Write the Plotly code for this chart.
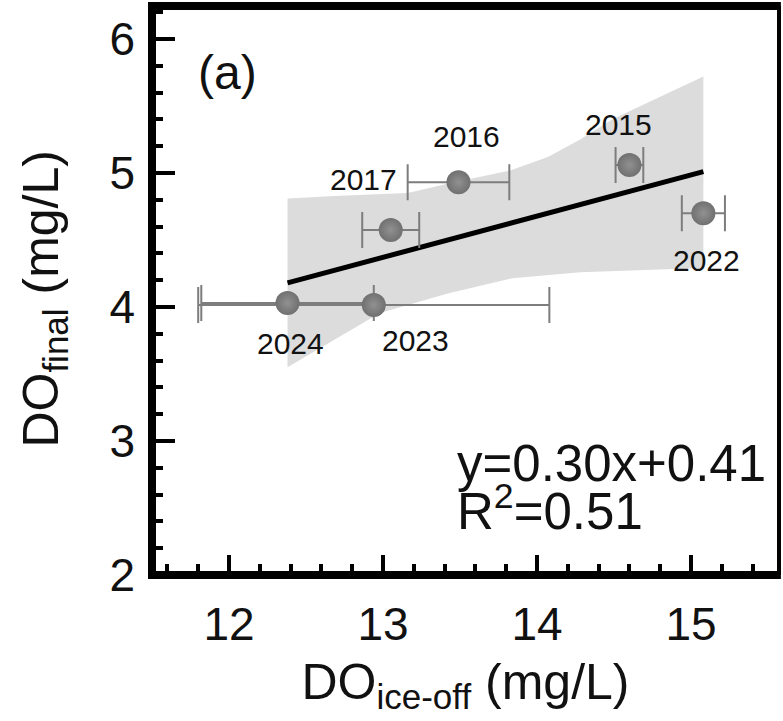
import plotly.graph_objects as go

# ---- data ----
years = ["2015", "2016", "2017", "2022", "2023", "2024"]
do_ice_off = [14.60, 13.49, 13.05, 15.08, 12.94, 12.38]
do_final = [5.06, 4.93, 4.575, 4.70, 4.015, 4.03]
do_ice_off_err = [0.09, 0.33, 0.185, 0.14, 1.14, 0.56]

fit_x = [12.38, 15.08]
fit_y = [4.18, 5.01]

band_x_upper = [12.38, 12.72, 13.16, 13.44, 13.83, 14.07, 14.28, 14.49, 14.71, 15.08]
band_y_upper = [4.81, 4.83, 4.85, 4.925, 5.02, 5.12, 5.25, 5.40, 5.52, 5.72]
band_x_lower = [12.38, 12.98, 13.42, 13.84, 14.28, 14.71, 15.08]
band_y_lower = [3.55, 3.955, 4.10, 4.215, 4.26, 4.275, 4.29]

label_x = [14.53, 13.54, 12.87, 15.10, 13.21, 12.40]
label_y = [5.36, 5.27, 4.95, 4.35, 3.75, 3.73]

x_ticks = [12, 13, 14, 15]
y_ticks = [2, 3, 4, 5, 6]
x_range = [11.5, 15.571]
y_range = [2.0, 6.246]

FONT = "Liberation Sans, Arial, sans-serif"

fig = go.Figure()

# confidence band
fig.add_trace(go.Scatter(
    x=band_x_upper + band_x_lower[::-1],
    y=band_y_upper + band_y_lower[::-1],
    fill="toself", fillcolor="rgb(220,220,220)",
    line=dict(width=0), mode="lines", hoverinfo="skip"))

# fit line
fig.add_trace(go.Scatter(
    x=fit_x, y=fit_y, mode="lines",
    line=dict(color="black", width=5)))

# points
fig.add_trace(go.Scatter(
    x=do_ice_off, y=do_final, mode="markers",
    marker=dict(size=24, color="rgb(112,112,112)",
                gradient=dict(type="radial", color="rgb(145,145,145)"),
                line=dict(width=0)),
    error_x=dict(type="data", array=do_ice_off_err, visible=True,
                 color="rgb(125,125,125)", thickness=2, width=18)))

annotations = []
for yr, lx, ly in zip(years, label_x, label_y):
    annotations.append(dict(x=lx, y=ly, xref="x", yref="y", text=yr,
                            showarrow=False, xanchor="center", yanchor="middle",
                            font=dict(size=30, family=FONT, color="#111")))
annotations.append(dict(x=0.121, y=0.884, xref="paper", yref="paper", text="(a)",
                        showarrow=False, xanchor="center", yanchor="middle",
                        font=dict(size=48, family=FONT, color="#111")))
annotations.append(dict(x=0.483, y=0.196, xref="paper", yref="paper", text="y=0.30x+0.41",
                        showarrow=False, xanchor="left", yanchor="middle",
                        font=dict(size=51, family=FONT, color="#111")))
annotations.append(dict(x=0.483, y=0.118, xref="paper", yref="paper", text="R<sup>2</sup>=0.51",
                        showarrow=False, xanchor="left", yanchor="middle",
                        font=dict(size=51, family=FONT, color="#111")))
# y-axis title
annotations.append(dict(x=-0.172, y=0.486, xref="paper", yref="paper",
                        text="DO<sub>final</sub> (mg/L)", textangle=-90,
                        showarrow=False, xanchor="center", yanchor="middle",
                        font=dict(size=50, family=FONT, color="#111")))

shapes = [
    dict(type="line", xref="paper", yref="paper", x0=0, x1=0, y0=-0.007, y1=1.007,
         line=dict(color="black", width=8)),
    dict(type="line", xref="paper", yref="paper", x0=-0.006, x1=1.003, y0=0, y1=0,
         line=dict(color="black", width=8)),
    dict(type="line", xref="paper", yref="paper", x0=-0.006, x1=1.003, y0=1, y1=1,
         line=dict(color="black", width=8)),
    dict(type="line", xref="paper", yref="paper", x0=1, x1=1, y0=0, y1=1,
         line=dict(color="black", width=4)),
]

fig.update_layout(
    width=783, height=721,
    margin=dict(l=152, r=4, t=6, b=146),
    plot_bgcolor="white", paper_bgcolor="white",
    showlegend=False,
    font=dict(family=FONT, color="#111"),
    annotations=annotations,
    shapes=shapes,
    xaxis=dict(
        range=x_range, tickvals=x_ticks, ticktext=[str(v) for v in x_ticks],
        ticks="inside", ticklen=20, tickwidth=4, tickcolor="black",
        minor=dict(dtick=0.2, tick0=12, ticks="inside", ticklen=11, tickwidth=4, tickcolor="black"),
        showgrid=False, zeroline=False, showline=False,
        tickfont=dict(size=46, family=FONT, color="#111"),
        ticklabelstandoff=18,
        title=dict(text="DO<sub>ice-off</sub> (mg/L)", font=dict(size=50, family=FONT, color="#111"), standoff=14),
    ),
    yaxis=dict(
        range=y_range, tickvals=y_ticks, ticktext=[str(v) for v in y_ticks],
        ticks="inside", ticklen=23, tickwidth=4, tickcolor="black",
        minor=dict(dtick=0.2, tick0=2, ticks="inside", ticklen=11, tickwidth=4, tickcolor="black"),
        showgrid=False, zeroline=False, showline=False,
        tickfont=dict(size=46, family=FONT, color="#111"),
        ticklabelstandoff=16,
    ),
)

fig.write_html("out.html", config={"displayModeBar": False},
               post_script="document.body.style.margin='0';document.body.style.overflow='hidden';")
